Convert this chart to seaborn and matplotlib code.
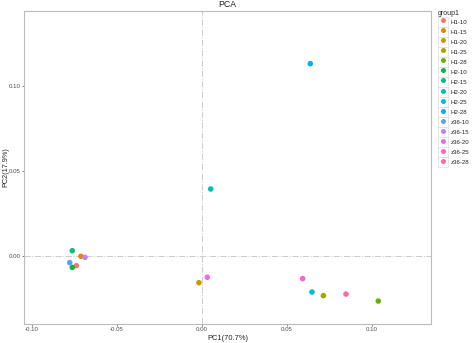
import numpy as np
import pandas as pd
import seaborn as sns
import matplotlib.pyplot as plt
from matplotlib.patches import Rectangle
from matplotlib.lines import Line2D
from matplotlib.legend_handler import HandlerTuple

## PCA scores
samples = ["H1-10", "H1-15", "H1-20", "H1-25", "H1-28",
           "H2-10", "H2-15", "H2-20", "H2-25", "H2-28",
           "z36-10", "z36-15", "z36-20", "z36-25", "z36-28"]
pc1 = [-0.0739, -0.0712, -0.0018, 0.0714, 0.1037,
       -0.0763, -0.0763, 0.0051, 0.0647, 0.0637,
       -0.0778, -0.0688, 0.0031, 0.0592, 0.0847]
pc2 = [-0.0057, -0.0002, -0.0157, -0.0233, -0.0265,
       -0.0067, 0.0031, 0.0394, -0.0212, 0.1131,
       -0.0039, -0.0008, -0.0125, -0.0133, -0.0224]
colours = ["#F8766D", "#E58700", "#C99800", "#A3A500", "#6BB100",
           "#00BA38", "#00BF7D", "#00C0AF", "#00BCD8", "#00B0F6",
           "#619CFF", "#B983FF", "#E76BF3", "#FD61D1", "#FF67A4"]
xticks = [-0.10, -0.05, 0.00, 0.05, 0.10]
yticks = [0.00, 0.05, 0.10]

df = pd.DataFrame({"PC1": pc1, "PC2": pc2, "group1": samples})

sns.set_style("white")
plt.rcParams['font.family'] = ['Liberation Sans', 'DejaVu Sans']

fig = plt.figure(figsize=(4.72, 3.43), dpi=100)
ax = fig.add_axes([24/472, 19/343, 407/472, 313/343])

ax.axhline(0, color="#cccccc", lw=0.7, ls="-.", zorder=0)
ax.axvline(0, color="#cccccc", lw=0.7, ls="-.", zorder=0)

sns.scatterplot(data=df, x="PC1", y="PC2", hue="group1", hue_order=samples,
                palette=colours, s=16, linewidth=0, ax=ax, legend=False)

ax.set_xlim(-0.1047, 0.1347)
ax.set_ylim(-0.040, 0.1441)
ax.set_xticks(xticks)
ax.set_yticks(yticks)
ax.set_xticklabels(["%.2f" % v for v in xticks])
ax.set_yticklabels(["%.2f" % v for v in yticks])
ax.tick_params(axis="both", labelsize=4.4, colors="#4d4d4d", length=1.6, width=0.5, pad=0.9,
               bottom=True, left=True)
for sp in ax.spines.values():
    sp.set_color("#bbbbbb")
    sp.set_linewidth(0.8)

ax.set_xlabel("PC1(70.7%)", fontsize=5.4, color="#222222", labelpad=1.5)
ax.set_ylabel("PC2(17.9%)", fontsize=5.2, color="#222222")
ax.yaxis.set_label_coords(-0.037, 0.5)
ax.set_title("PCA", fontsize=6.3, color="#222222", pad=3)

# legend with boxed keys like ggplot
handles = []
for c in colours:
    box = Rectangle((0, 0), 1, 1, facecolor="white", edgecolor="#dddddd", lw=0.5)
    dot = Line2D([], [], marker="o", color=c, ls="", markersize=3.6, markeredgewidth=0)
    handles.append((box, dot))
leg = fig.legend(handles, samples, title="group1", loc="upper left",
                 bbox_to_anchor=(0.925, 0.975), bbox_transform=fig.transFigure,
                 handler_map={tuple: HandlerTuple(ndivide=1)},
                 frameon=False, fontsize=4.4, title_fontsize=5,
                 handlelength=1.64, handleheight=2.15, handletextpad=0.4,
                 labelspacing=0.0, borderpad=0.2, borderaxespad=0)
leg._legend_box.align = "left"
for t in leg.get_texts():
    t.set_color("#222222")

fig.savefig("out.png", dpi=100)
